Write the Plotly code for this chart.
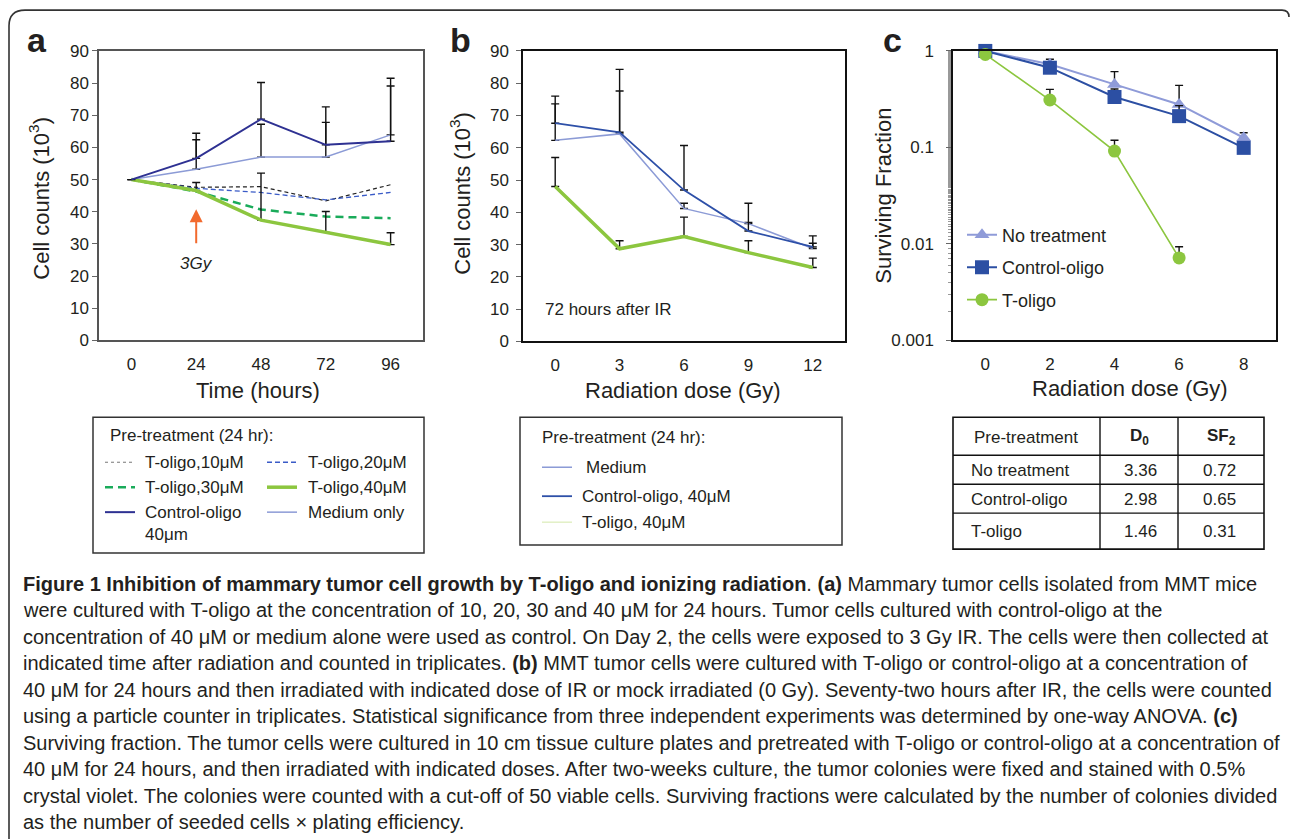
import plotly.graph_objects as go

W, H = 1290, 839

# ---------------- data ----------------
# Panel a: cell counts (10^3) vs time (hours)
time_h = [0, 24, 48, 72, 96]
a_toligo10 = [50, 47.6, 47.8, 43.4, 48.4]
a_toligo20 = [50, 47.3, 46.0, 43.7, 46.0]
a_toligo30 = [50, 46.3, 40.7, 38.5, 38.0]
a_toligo40 = [50, 46.6, 37.4, 33.6, 29.8]
a_toligo40_err = [0, 2.5, 14.6, 6.5, 3.7]
a_control = [50, 56.6, 68.8, 60.8, 61.9]
a_control_err = [0, 7.8, 11.4, 11.8, 19.6]
a_medium = [50, 53.2, 57.0, 57.0, 63.9]
a_medium_err = [0, 9.2, 10.2, 10.8, 15.2]

# Panel b: cell counts (10^3) vs dose (Gy), 72 h after IR
dose_b = [0, 3, 6, 9, 12]
b_medium = [62.3, 64.3, 41.2, 36.5, 28.8]
b_medium_err = [11.3, 13.3, 1.6, 0.4, 1.6]
b_control = [67.6, 64.8, 46.9, 34.2, 29.3]
b_control_err = [8.4, 19.5, 13.8, 8.6, 3.4]
b_toligo = [48.0, 28.7, 32.5, 27.5, 22.9]
b_toligo_err = [9.0, 2.5, 6.0, 3.7, 2.9]

# Panel c: surviving fraction vs dose (Gy)
dose_c = [0, 2, 4, 6, 8]
c_notreat = [1.0, 0.727, 0.45, 0.279, 0.126]
c_notreat_err = [0, 0.093, 0.16, 0.161, 0.016]
c_control = [1.0, 0.67, 0.333, 0.211, 0.099]
c_control_err = [0, 0.03, 0.07, 0.06, 0.015]
dose_c_toligo = [0, 2, 4, 6]
c_toligo = [0.92, 0.31, 0.0917, 0.00716]
c_toligo_err = [0, 0.09, 0.027, 0.0022]

# Table in panel c
table_header = ["Pre-treatment", "<b>D<sub>0</sub></b>", "<b>SF<sub>2</sub></b>"]
table_rows = ["No treatment", "Control-oligo", "T-oligo"]
table_d0 = ["3.36", "2.98", "1.46"]
table_sf2 = ["0.72", "0.65", "0.31"]

caption_lines = [
    "<b>Figure 1 Inhibition of mammary tumor cell growth by T-oligo and ionizing radiation</b>. <b>(a)</b> Mammary tumor cells isolated from MMT mice",
    "were cultured with T-oligo at the concentration of 10, 20, 30 and 40 μM for 24 hours. Tumor cells cultured with control-oligo at the",
    "concentration of 40 μM or medium alone were used as control. On Day 2, the cells were exposed to 3 Gy IR. The cells were then collected at",
    "indicated time after radiation and counted in triplicates. <b>(b)</b> MMT tumor cells were cultured with T-oligo or control-oligo at a concentration of",
    "40 μM for 24 hours and then irradiated with indicated dose of IR or mock irradiated (0 Gy). Seventy-two hours after IR, the cells were counted",
    "using a particle counter in triplicates. Statistical significance from three independent experiments was determined by one-way ANOVA. <b>(c)</b>",
    "Surviving fraction. The tumor cells were cultured in 10 cm tissue culture plates and pretreated with T-oligo or control-oligo at a concentration of",
    "40 μM for 24 hours, and then irradiated with indicated doses. After two-weeks culture, the tumor colonies were fixed and stained with 0.5%",
    "crystal violet. The colonies were counted with a cut-off of 50 viable cells. Surviving fractions were calculated by the number of colonies divided",
    "as the number of seeded cells × plating efficiency.",
]

# ---------------- styles ----------------
FONT = "Liberation Sans, Arial, sans-serif"
TXT = "#231f20"
NAVY = "#2e3192"
LIGHTBLUE = "#8c9bd6"
MIDBLUE = "#2e50a8"
GREEN = "#8cc63f"
DGREEN = "#1aab5a"

st_t10 = dict(color="#222222", width=1.2, dash="4px,3px")
st_t20 = dict(color="#3a5bc7", width=1.3, dash="5px,3px")
st_t30 = dict(color=DGREEN, width=2.5, dash="8px,5px")
st_t40 = dict(color=GREEN, width=3.5)
st_ctrl = dict(color=NAVY, width=2)
st_med = dict(color=LIGHTBLUE, width=1.5)

# vertical placement: target picture rows -> figure rows
V_OFF, V_SCALE = 8.0, 0.979


def px(x):
    return x / W


def py(y):
    return 1 - ((y - V_OFF) / V_SCALE) / H


def err(vals):
    return dict(type="data", symmetric=False, array=vals, arrayminus=[0] * len(vals),
                color="#111111", thickness=1.4, width=4)


fig = go.Figure()

# Panel a traces
fig.add_trace(go.Scatter(x=time_h, y=a_medium, mode="lines", line=st_med, error_y=err(a_medium_err),
                         xaxis="x", yaxis="y", showlegend=False))
fig.add_trace(go.Scatter(x=time_h, y=a_toligo10, mode="lines", line=st_t10, xaxis="x", yaxis="y", showlegend=False))
fig.add_trace(go.Scatter(x=time_h, y=a_toligo20, mode="lines", line=st_t20, xaxis="x", yaxis="y", showlegend=False))
fig.add_trace(go.Scatter(x=time_h, y=a_toligo30, mode="lines", line=st_t30, xaxis="x", yaxis="y", showlegend=False))
fig.add_trace(go.Scatter(x=time_h, y=a_toligo40, mode="lines", line=st_t40, error_y=err(a_toligo40_err),
                         xaxis="x", yaxis="y", showlegend=False))
fig.add_trace(go.Scatter(x=time_h, y=a_control, mode="lines", line=st_ctrl, error_y=err(a_control_err),
                         xaxis="x", yaxis="y", showlegend=False))

# Panel b traces
fig.add_trace(go.Scatter(x=dose_b, y=b_medium, mode="lines", line=dict(color=LIGHTBLUE, width=1.5),
                         error_y=err(b_medium_err), xaxis="x2", yaxis="y2", showlegend=False))
fig.add_trace(go.Scatter(x=dose_b, y=b_control, mode="lines", line=dict(color=MIDBLUE, width=1.8),
                         error_y=err(b_control_err), xaxis="x2", yaxis="y2", showlegend=False))
fig.add_trace(go.Scatter(x=dose_b, y=b_toligo, mode="lines", line=dict(color=GREEN, width=3.5),
                         error_y=err(b_toligo_err), xaxis="x2", yaxis="y2", showlegend=False))

# Panel c traces
fig.add_trace(go.Scatter(x=dose_c, y=c_notreat, mode="lines+markers", name="No treatment",
                         line=dict(color="#8f9bd8", width=2),
                         marker=dict(symbol="triangle-up", size=13, color="#8f9bd8"),
                         error_y=err(c_notreat_err), xaxis="x3", yaxis="y3", cliponaxis=False,
                         legendgroup="g1"))
fig.add_trace(go.Scatter(x=dose_c, y=c_control, mode="lines+markers", name="Control-oligo",
                         line=dict(color="#2c4fa3", width=2),
                         marker=dict(symbol="square", size=14, color="#2c4fa3"),
                         error_y=err(c_control_err), xaxis="x3", yaxis="y3", cliponaxis=False,
                         legendgroup="g2"))
fig.add_trace(go.Scatter(x=dose_c_toligo, y=c_toligo, mode="lines+markers", name="T-oligo",
                         line=dict(color=GREEN, width=1.6),
                         marker=dict(symbol="circle", size=13, color=GREEN),
                         error_y=err(c_toligo_err), xaxis="x3", yaxis="y3", cliponaxis=False,
                         legendgroup="g3"))

tickfont = dict(family=FONT, size=17, color=TXT)
common_x = dict(showline=True, mirror=True, linewidth=1.5, ticks="", tickfont=tickfont,
                showgrid=False, zeroline=False, ticklabelstandoff=7, fixedrange=True)
common_y = dict(showline=True, mirror=True, linewidth=1.5, ticks="outside", ticklen=5, tickwidth=1,
                tickcolor="#666", tickfont=tickfont, showgrid=False, zeroline=False, fixedrange=True)

fig.update_layout(
    width=W, height=H, margin=dict(l=0, r=0, t=0, b=0),
    paper_bgcolor="white", plot_bgcolor="white",
    font=dict(family=FONT, color=TXT),
    xaxis=dict(domain=[px(99), px(423)], range=[-12, 108], tickvals=time_h, anchor="y",
               linecolor="#555", **common_x),
    yaxis=dict(domain=[py(340), py(50)], range=[0, 90], dtick=10, anchor="x",
               linecolor="#555", ticklabelstandoff=0, **common_y),
    xaxis2=dict(domain=[px(523), px(845)], range=[-1.5, 13.5], tickvals=dose_b, anchor="y2",
                linecolor="#111", **common_x),
    yaxis2=dict(domain=[py(341), py(50)], range=[0, 90], dtick=10, anchor="x2",
                linecolor="#111", ticklabelstandoff=4, **common_y),
    xaxis3=dict(domain=[px(953), px(1276)], range=[-1, 9], tickvals=dose_c, anchor="y3",
                linecolor="#111", **common_x),
    yaxis3=dict(domain=[py(340), py(50)], type="log", range=[-3, 0],
                tickvals=[0.001, 0.01, 0.1, 1], ticktext=["0.001", "0.01", "0.1", "1"],
                anchor="x3", linecolor="#111", ticklabelstandoff=9,
                minor=dict(ticks="outside", ticklen=3, tickcolor="#999", showgrid=False),
                **common_y),
    legend=dict(x=px(962), y=py(216), xanchor="left", yanchor="top",
                bgcolor="rgba(0,0,0,0)", borderwidth=0,
                font=dict(family=FONT, size=18, color=TXT),
                traceorder="grouped", tracegroupgap=6, itemwidth=30),
)

shapes = []
ann = []

# Outer rounded frame
top = 1 - 1.2 / H
shapes.append(dict(type="path", xref="paper", yref="paper",
                   path=f"M {px(9)},{-0.02} L {px(9)},{top - 16 / H} Q {px(9)},{top} {px(25)},{top} "
                        f"L {px(1282)},{top} Q {px(1289)},{top} {px(1289)},{top - 7 / H}",
                   line=dict(color="#333", width=1.6)))

# Panel letters
for letter, x in [("a", 37), ("b", 460), ("c", 892)]:
    ann.append(dict(text=f"<b>{letter}</b>", x=px(x), y=py(60), xref="paper", yref="paper",
                    xanchor="center", yanchor="bottom", showarrow=False,
                    font=dict(family=FONT, size=34, color=TXT)))

# Axis titles
titlefont = dict(family=FONT, size=22, color=TXT)
ann += [
    dict(text="Time (hours)", x=px(258), y=py(390), xref="paper", yref="paper", showarrow=False,
         xanchor="center", yanchor="middle", font=titlefont),
    dict(text="Radiation dose (Gy)", x=px(683), y=py(390), xref="paper", yref="paper", showarrow=False,
         xanchor="center", yanchor="middle", font=titlefont),
    dict(text="Radiation dose (Gy)", x=px(1130), y=py(388), xref="paper", yref="paper", showarrow=False,
         xanchor="center", yanchor="middle", font=titlefont),
    dict(text="Cell counts (10<sup>3</sup>)", x=px(39), y=py(198), xref="paper", yref="paper",
         showarrow=False, textangle=-90, xanchor="center", yanchor="middle", font=titlefont),
    dict(text="Cell counts (10<sup>3</sup>)", x=px(460), y=py(193), xref="paper", yref="paper",
         showarrow=False, textangle=-90, xanchor="center", yanchor="middle", font=titlefont),
    dict(text="Surviving Fraction", x=px(884), y=py(195), xref="paper", yref="paper",
         showarrow=False, textangle=-90, xanchor="center", yanchor="middle", font=titlefont),
]

# 3Gy label with arrow pointing up at the 24 h time point (panel a)
ann.append(dict(text="<i>3Gy</i>", x=24, y=40.8, ax=24, ay=24, xref="x", yref="y", axref="x", ayref="y",
                showarrow=True, arrowhead=2, arrowsize=1.3, arrowwidth=2, arrowcolor="#f26a2e",
                startstandoff=9, font=dict(family=FONT, size=17, color=TXT)))
# Panel b note
ann.append(dict(text="72 hours after IR", x=px(543), y=py(309), xref="paper", yref="paper",
                showarrow=False, xanchor="left", yanchor="middle",
                font=dict(family=FONT, size=17, color=TXT)))

legfont = dict(family=FONT, size=17, color=TXT)

# Legend box a
shapes.append(dict(type="rect", xref="paper", yref="paper", x0=px(93), x1=px(424), y0=py(553), y1=py(417),
                   line=dict(color="#333", width=1.5)))
ann.append(dict(text="Pre-treatment (24 hr):", x=px(108), y=py(435), xref="paper", yref="paper",
                showarrow=False, xanchor="left", yanchor="middle", font=legfont))
leg_a = [
    (105, 135, 143, 462, "T-oligo,10μM", dict(color="#777", width=1, dash="dot")),
    (267, 297, 306, 462, "T-oligo,20μM", st_t20),
    (105, 135, 143, 487, "T-oligo,30μM", st_t30),
    (267, 297, 306, 487, "T-oligo,40μM", st_t40),
    (105, 135, 143, 512, "Control-oligo", st_ctrl),
    (267, 297, 306, 512, "Medium only", st_med),
]
for x0, x1, xt, y, label, style in leg_a:
    shapes.append(dict(type="line", xref="paper", yref="paper", x0=px(x0), x1=px(x1), y0=py(y), y1=py(y),
                       line=style))
    ann.append(dict(text=label, x=px(xt), y=py(y), xref="paper", yref="paper", showarrow=False,
                    xanchor="left", yanchor="middle", font=legfont))
ann.append(dict(text="40μm", x=px(143), y=py(534), xref="paper", yref="paper", showarrow=False,
                xanchor="left", yanchor="middle", font=legfont))

# Legend box b
shapes.append(dict(type="rect", xref="paper", yref="paper", x0=px(520), x1=px(842), y0=py(545), y1=py(417),
                   line=dict(color="#333", width=1.5)))
ann.append(dict(text="Pre-treatment (24 hr):", x=px(540), y=py(437), xref="paper", yref="paper",
                showarrow=False, xanchor="left", yanchor="middle", font=legfont))
leg_b = [
    (467, 584, "Medium", dict(color=LIGHTBLUE, width=1.5)),
    (496, 580, "Control-oligo, 40μM", dict(color=MIDBLUE, width=1.8)),
    (522, 580, "T-oligo, 40μM", dict(color="#d3e8a8", width=1)),
]
for y, xt, label, style in leg_b:
    shapes.append(dict(type="line", xref="paper", yref="paper", x0=px(542), x1=px(572), y0=py(y), y1=py(y),
                       line=style))
    ann.append(dict(text=label, x=px(xt), y=py(y), xref="paper", yref="paper", showarrow=False,
                    xanchor="left", yanchor="middle", font=legfont))

# Table in panel c
tl, tr, tt, tb = 953, 1264, 417, 549
shapes.append(dict(type="rect", xref="paper", yref="paper", x0=px(tl), x1=px(tr), y0=py(tb), y1=py(tt),
                   line=dict(color="#111", width=1.6)))
for yy in [455, 484, 513]:
    shapes.append(dict(type="line", xref="paper", yref="paper", x0=px(tl), x1=px(tr), y0=py(yy), y1=py(yy),
                       line=dict(color="#111", width=1.4)))
for xx in [1100, 1178]:
    shapes.append(dict(type="line", xref="paper", yref="paper", x0=px(xx), x1=px(xx), y0=py(tb), y1=py(tt),
                       line=dict(color="#111", width=1.4)))
tabfont = dict(family=FONT, size=17, color=TXT)
ann.append(dict(text=table_header[0], x=px(1026), y=py(437), xref="paper", yref="paper", showarrow=False,
                xanchor="center", yanchor="middle", font=tabfont))
ann.append(dict(text=table_header[1], x=px(1139), y=py(437), xref="paper", yref="paper", showarrow=False,
                xanchor="center", yanchor="middle", font=tabfont))
ann.append(dict(text=table_header[2], x=px(1221), y=py(437), xref="paper", yref="paper", showarrow=False,
                xanchor="center", yanchor="middle", font=tabfont))
for i, yy in enumerate([470, 499, 531]):
    ann.append(dict(text=table_rows[i], x=px(969), y=py(yy), xref="paper", yref="paper", showarrow=False,
                    xanchor="left", yanchor="middle", font=tabfont))
    ann.append(dict(text=table_d0[i], x=px(1140), y=py(yy), xref="paper", yref="paper", showarrow=False,
                    xanchor="center", yanchor="middle", font=tabfont))
    ann.append(dict(text=table_sf2[i], x=px(1219), y=py(yy), xref="paper", yref="paper", showarrow=False,
                    xanchor="center", yanchor="middle", font=tabfont))

# Caption
capfont = dict(family=FONT, size=20, color=TXT)
cap_y0, cap_dy = 584, 26.5
for i, line in enumerate(caption_lines):
    yy = cap_y0 + i * cap_dy
    ann.append(dict(text=line, x=px(21), y=py(yy), xref="paper", yref="paper", showarrow=False,
                    xanchor="left", yanchor="middle", font=capfont))

fig.update_layout(shapes=shapes, annotations=ann)
fig.write_html(
    "out.html",
    config={"displayModeBar": False},
    post_script=(
        "document.documentElement.style.cssText='margin:0;padding:0;overflow:hidden;height:839px;';"
        "document.body.style.cssText='margin:0;padding:0;overflow:hidden;height:839px;';"
    ),
)
